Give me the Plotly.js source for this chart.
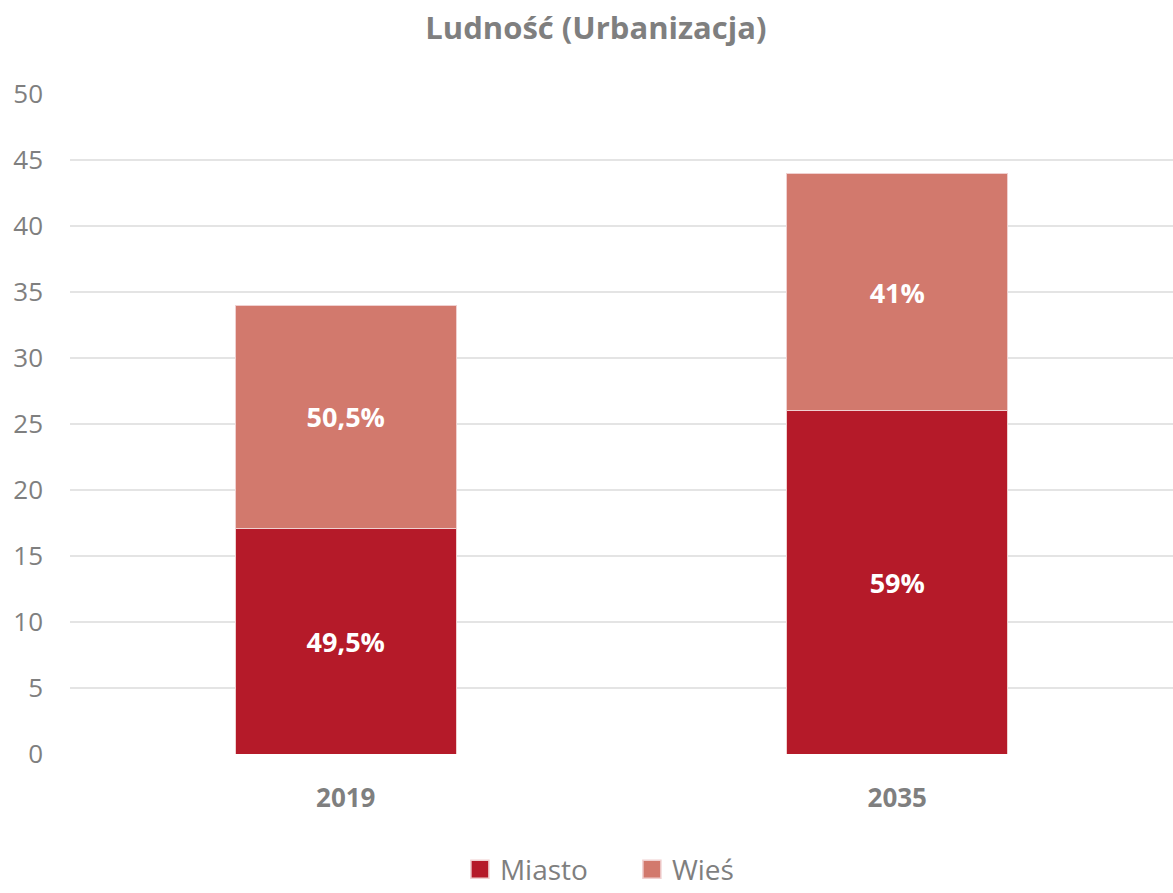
<!DOCTYPE html>
<html>
<head>
<meta charset="utf-8">
<script src="https://cdn.plot.ly/plotly-3.0.1.min.js"></script>
<style>html,body{margin:0;padding:0;background:#fff;}#chart{width:1173px;height:893px;}</style>
</head>
<body>
<div id="chart"></div>
<script>
var categories = ['2019', '2035'];
var miasto = [17.1, 26];
var wies = [16.9, 18];
var miastoLabels = ['49,5%', '59%'];
var wiesLabels = ['50,5%', '41%'];
var yTicks = [0, 5, 10, 15, 20, 25, 30, 35, 40, 45, 50];

var fontFam = 'Open Sans, Noto Sans, sans-serif';
var grey = '#7f7f7f';

var traces = [
  {
    type: 'bar', name: 'Miasto', x: categories, y: miasto,
    text: miastoLabels, textposition: 'inside', insidetextanchor: 'middle',
    textfont: {family: fontFam, size: 27, color: '#ffffff', weight: 'bold'},
    marker: {color: '#b51a29', line: {color: '#f0d0d0', width: 1}},
    hoverinfo: 'skip'
  },
  {
    type: 'bar', name: 'Wieś', x: categories, y: wies,
    text: wiesLabels, textposition: 'inside', insidetextanchor: 'middle',
    textfont: {family: fontFam, size: 27, color: '#ffffff', weight: 'bold'},
    marker: {color: '#d2796d', line: {color: '#f0d0d0', width: 1}},
    hoverinfo: 'skip'
  }
];

var layout = {
  width: 1173, height: 893,
  paper_bgcolor: '#ffffff', plot_bgcolor: '#ffffff',
  margin: {l: 70, r: 0, t: 94, b: 139, autoexpand: false},
  barmode: 'stack', bargap: 0.6,
  title: {text: '<b>Ludność (Urbanizacja)</b>', x: 0.508, xanchor: 'center', y: 0.969, yanchor: 'middle',
          font: {family: fontFam, size: 31, color: grey}},
  xaxis: {
    type: 'category', showgrid: false, zeroline: false, showline: false, ticks: '',
    ticklabelstandoff: 26,
    tickfont: {family: fontFam, size: 26, color: grey, weight: 'bold'}
  },
  yaxis: {
    range: [0, 50], tickvals: yTicks, ticktext: yTicks.map(String),
    showgrid: true, gridcolor: '#e4e4e4', gridwidth: 2, zeroline: false, showline: false,
    ticks: '', ticklabelstandoff: 26, ticklabelposition: 'outside',
    tickfont: {family: fontFam, size: 26, color: grey}
  },
  showlegend: true,
  legend: {orientation: 'h', x: 0.3535, xanchor: 'left', y: -0.175, yanchor: 'middle',
           entrywidth: 127, entrywidthmode: 'pixels',
           font: {family: fontFam, size: 28, color: grey}, itemwidth: 30, tracegroupgap: 0, traceorder: 'normal'},
  font: {family: fontFam, color: grey}
};

Plotly.newPlot('chart', traces, layout, {displayModeBar: false, staticPlot: true}).then(function(gd){
  var pts = gd.querySelectorAll('.legend .legendpoints path');
  pts.forEach(function(p){
    var t = p.getAttribute('transform') || '';
    p.setAttribute('transform', t + ' scale(1.5)');
  });
});
</script>
</body>
</html>
